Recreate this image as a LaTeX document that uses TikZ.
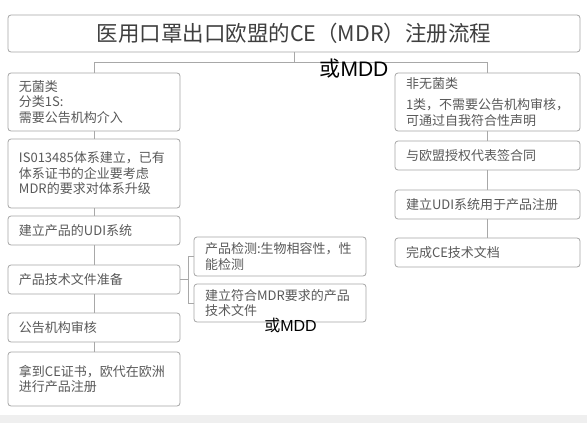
\documentclass[tikz,border=0pt]{standalone}
\usepackage{fontspec}
\setmainfont{Noto Sans CJK SC}
\newfontfamily\latinfont{Liberation Sans}
\definecolor{bordc}{HTML}{A5A5A5}
\definecolor{linec}{HTML}{A8A8A8}
\definecolor{txtc}{HTML}{595959}
\definecolor{titc}{HTML}{3F3F3F}
\definecolor{bandc}{HTML}{EFEFEF}
\tikzset{
  box/.style={draw=bordc, line width=0.8pt, rounded corners=3pt, fill=white,
    align=left, inner xsep=11pt, inner ysep=0pt, text=txtc,
    font=\fontsize{13}{15.5}\selectfont},
  conn/.style={draw=linec, line width=0.8pt},
  note/.style={text=black, inner sep=0pt}
}
% box macro: name, x1, y1, x2, y2, text
\newcommand{\mybox}[6]{%
  \pgfmathsetmacro{\bw}{#4-#2}\pgfmathsetmacro{\bh}{#5-#3}%
  \pgfmathsetmacro{\tw}{#4-#2-22}%
  \node[box, minimum width=\bw pt, minimum height=\bh pt, text width=\tw pt]
    (#1) at ({(#2+#4)/2},{(#3+#5)/2}) {#6};}
\begin{document}
\begin{tikzpicture}[x=1pt,y=-1pt]
\useasboundingbox (0,0) rectangle (587,423);
\fill[bandc] (0,415) rectangle (587,423);
% title
\node[box, minimum width=572pt, minimum height=37pt, align=center, text=titc,
  font=\fontsize{21.5}{24}\selectfont] (title) at (294,33.5) {医用口罩出口欧盟的CE（MDR）注册流程};
% left column
\mybox{l1}{8}{73}{180}{131}{无菌类\\分类1S:\\需要公告机构介入}
\mybox{l2}{8}{139}{180}{208}{IS013485体系建立，已有\\体系证书的企业要考虑\\MDR的要求对体系升级}
\mybox{l3}{8}{216}{180}{245}{建立产品的UDI系统}
\mybox{l4}{8}{265}{180}{294}{产品技术文件准备}
\mybox{l5}{8}{313}{180}{342}{公告机构审核}
\mybox{l6}{8}{352}{180}{406}{拿到CE证书，欧代在欧洲\\进行产品注册}
% sub boxes
\mybox{s1}{194}{237}{366}{276}{产品检测:生物相容性，性\\能检测}
\mybox{s2}{194}{284}{366}{322}{建立符合MDR要求的产品\\技术文件}
% right column
\mybox{r1}{395}{73}{580}{131}{非无菌类\\[6pt]1类，不需要公告机构审核，\\可通过自我符合性声明}
\mybox{r2}{395}{141}{580}{170}{与欧盟授权代表签合同}
\mybox{r3}{395}{190}{580}{219}{建立UDI系统用于产品注册}
\mybox{r4}{395}{238}{580}{267}{完成CE技术文档}
% connectors
\coordinate (j) at (294,62);
\coordinate (jl) at (94,62);
\coordinate (jr) at (487.5,62);
\draw[conn] (title) -- (j);
\draw[conn] (l1) -- (jl) -- (jr) -- (r1);
\draw[conn] (l1) -- (l2);
\draw[conn] (l2) -- (l3);
\draw[conn] (l3) -- (l4);
\draw[conn] (l4) -- (l5);
\draw[conn] (l5) -- (l6);
\draw[conn] (r1) -- (r2);
\draw[conn] (r2) -- (r3);
\draw[conn] (r3) -- (r4);
\coordinate (b) at (188,279.5);
\draw[conn] (l4.east) -- (b);
\draw[conn] (s1.west) -| (b);
\draw[conn] (s2.west) -| (b);
% notes
\node[note, font=\fontsize{21}{24}\selectfont] (n1) at (354,69) {或{\latinfont MDD}};
\node[note, font=\fontsize{16}{18}\selectfont] (n2) at (290.5,325) {或{\latinfont MDD}};
\end{tikzpicture}
\end{document}
